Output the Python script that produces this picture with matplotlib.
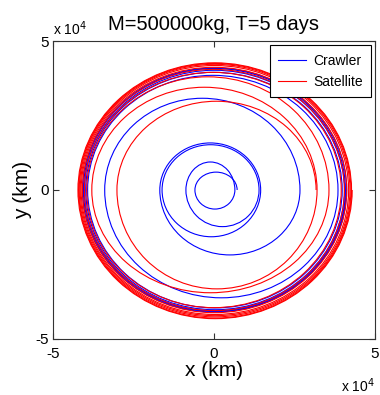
import matplotlib
matplotlib.use("Agg")
import matplotlib.pyplot as plt
from matplotlib.patches import Arc

plt.rcParams["font.family"] = ["Liberation Sans", "DejaVu Sans"]

# crossing points of each half turn, in units of 1e4 km
crawler_right = [0.72, 0.65, 1.40, 1.45, 2.67, 3.85, 3.98, 4.05, 4.08, 4.12, 4.10]
crawler_top = [0.60, 0.94, 1.52, 1.58, 3.08, 3.85, 3.95, 4.02, 4.08, 4.10]
crawler_left = [-0.59, -0.87, -1.61, -1.68, -3.39, -3.92, -3.98, -4.02, -4.05, -4.08]
crawler_bottom = [-0.64, -1.23, -1.57, -2.18, -3.62, -3.96, -4.02, -4.06, -4.08, -4.10]

sat_right = [3.17, 3.20, 3.57, 3.95, 4.05, 4.12, 4.18, 4.22, 4.25, 4.27, 4.29]
sat_top = [2.98, 3.45, 3.80, 3.95, 4.05, 4.12, 4.18, 4.22, 4.25, 4.27]
sat_left = [-3.01, -3.79, -3.95, -4.02, -4.08, -4.12, -4.15, -4.18, -4.20, -4.22]
sat_bottom = [-3.32, -3.45, -3.95, -4.05, -4.12, -4.18, -4.22, -4.26, -4.30, -4.32]

ticks = [-5, 0, 5]


def draw_spiral(ax, right, top, left, bottom, color):
    for i in range(len(top)):
        # upper half from right crossing to left crossing
        ax.add_patch(Arc(((right[i] + left[i]) / 2, 0), right[i] - left[i], 2 * top[i],
                         theta1=0, theta2=180, color=color, lw=0.8))
        # lower half from left crossing to next right crossing
        ax.add_patch(Arc(((left[i] + right[i + 1]) / 2, 0), right[i + 1] - left[i], -2 * bottom[i],
                         theta1=180, theta2=360, color=color, lw=0.8))


fig = plt.figure(figsize=(3.8, 3.95), dpi=100)
ax = fig.add_axes([0.139, 0.142, 0.848, 0.754])

draw_spiral(ax, crawler_right, crawler_top, crawler_left, crawler_bottom, "#0000ff")
draw_spiral(ax, sat_right, sat_top, sat_left, sat_bottom, "#ff0000")
ax.plot([], [], color="#0000ff", lw=0.8, label="Crawler")
ax.plot([], [], color="#ff0000", lw=0.8, label="Satellite")

ax.set_xlim(-5, 5)
ax.set_ylim(-5, 5)
ax.set_xticks(ticks)
ax.set_yticks(ticks)
ax.set_xticklabels([str(t) for t in ticks])
ax.set_yticklabels([str(t) for t in ticks])
ax.tick_params(direction="in", top=True, right=True, labelsize=11, length=4, color="#333333")
ax.tick_params(axis="x", pad=6)
ax.tick_params(axis="y", pad=3)
for s in ax.spines.values():
    s.set_color("#333333")
    s.set_linewidth(0.8)

ax.set_title("M=500000kg, T=5 days", fontsize=14.5, pad=8)
ax.set_xlabel("x (km)", fontsize=15, labelpad=0)
ax.set_ylabel("y (km)", fontsize=15, labelpad=2)
ax.text(0.0, 1.01, r"x 10$^4$", transform=ax.transAxes, fontsize=10, va="bottom", ha="left")
ax.text(1.0, -0.125, r"x 10$^4$", transform=ax.transAxes, fontsize=10, va="top", ha="right")

leg = ax.legend(loc="upper right", fontsize=10, fancybox=False, framealpha=1,
                edgecolor="black", handlelength=2.0, borderaxespad=0.3, borderpad=0.6,
                labelspacing=0.5, handletextpad=0.5)
leg.get_frame().set_linewidth(0.8)

fig.savefig("out.png", dpi=100)
